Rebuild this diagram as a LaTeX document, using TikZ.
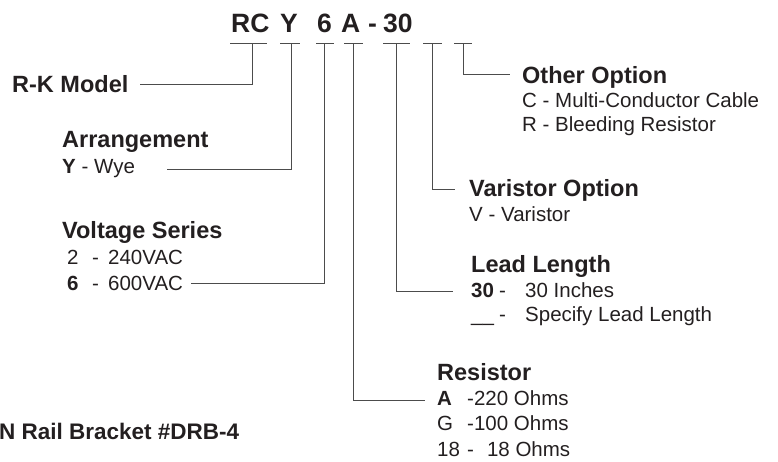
\documentclass[tikz,border=0pt]{standalone}
\usepackage{fontspec}
\setmainfont{Liberation Sans}
\definecolor{ink}{HTML}{231F20}
\begin{document}
\begin{tikzpicture}[
    x=1pt,
    y=1pt,
    code/.style={
        anchor=base west,
        inner sep=0pt,
        text=ink,
        font=\fontsize{26.5}{30}\selectfont\bfseries
    },
    head/.style={
        anchor=base west,
        inner sep=0pt,
        text=ink,
        font=\fontsize{23.5}{27}\selectfont\bfseries
    },
    entry/.style={
        anchor=base west,
        inner sep=0pt,
        text=ink,
        font=\fontsize{20.5}{24}\selectfont
    },
    lead/.style={line width=1pt, draw=black!70}
]
\useasboundingbox (0,0) rectangle (778,-461);

% part number
\node[code] (cRC) at (231,-32) {RC};
\node[code] (cY) at (280,-32) {Y};
\node[code] (c6) at (317,-32) {6};
\node[code] (cA) at (341,-32) {A};
\node[code] (cDash) at (368,-32) {-};
\node[code] (c30) at (383,-32) {30};

% ticks under the part number
\foreach \l/\r/\d/\n in {230/267/252/tRC, 280/300/291/tY, 316/334/324/t6,
    344/363/353/tA, 383/410/396/t30, 423/442/432/tV, 454/472/463/tO} {
    \draw[lead] (\l,-43) -- (\r,-43);
    \coordinate (\n) at (\d,-43);
}

% left side
\node[head] (rk) at (12,-92) {R-K Model};

\node[head] (arr) at (62,-147) {Arrangement};
\node[entry] (wye) at (62,-173) {\textbf{Y} - Wye};

\node[head] (volt) at (62,-238) {Voltage Series};
\node[entry] (v240) at (67,-264) {\makebox[25pt][l]{2}\makebox[16pt][l]{-}240VAC};
\node[entry] (v600) at (67,-290) {\makebox[25pt][l]{\textbf{6}}\makebox[16pt][l]{-}600VAC};

\node[head, font=\fontsize{22.5}{26}\selectfont\bfseries] (din) at (-1,-439) {N Rail Bracket \#DRB-4};

% right side
\node[head] (other) at (522,-83) {Other Option};
\node[entry] (oC) at (522,-107) {C - Multi-Conductor Cable};
\node[entry] (oR) at (522,-131) {R - Bleeding Resistor};

\node[head] (var) at (469,-196) {Varistor Option};
\node[entry] (varV) at (469,-221) {V - Varistor};

\node[head] (len) at (471,-272) {Lead Length};
\node[entry] (len30) at (471,-297) {\makebox[28pt][l]{\textbf{30}}\makebox[26pt][l]{-}30 Inches};
\node[entry] (lenX) at (471,-321) {\makebox[28pt][l]{\_\_}\makebox[26pt][l]{-}Specify Lead Length};

\node[head] (res) at (437,-380) {Resistor};
\node[entry] (resA) at (437,-405) {\makebox[30pt][l]{\textbf{A}}-220 Ohms};
\node[entry] (resG) at (437,-430) {\makebox[30pt][l]{G}-100 Ohms};
\node[entry] (res18) at (437,-456) {\makebox[30pt][l]{18}-\hspace{13pt}18 Ohms};

% leaders
\draw[lead] (tRC) |- ([xshift=11pt,yshift=8pt]rk.base east);
\draw[lead] (tY) |- ([xshift=32pt,yshift=4pt]wye.base east);
\draw[lead] (t6) |- ([xshift=8pt,yshift=7pt]v600.base east);
\draw[lead] (tA) |- ([xshift=-12pt,yshift=5pt]resA.base west);
\draw[lead] (t30) |- ([xshift=-18pt,yshift=6pt]len30.base west);
\draw[lead] (tV) |- ([xshift=-14pt,yshift=7pt]var.base west);
\draw[lead] (tO) |- ([xshift=-12pt,yshift=9pt]other.base west);

\end{tikzpicture}
\end{document}
